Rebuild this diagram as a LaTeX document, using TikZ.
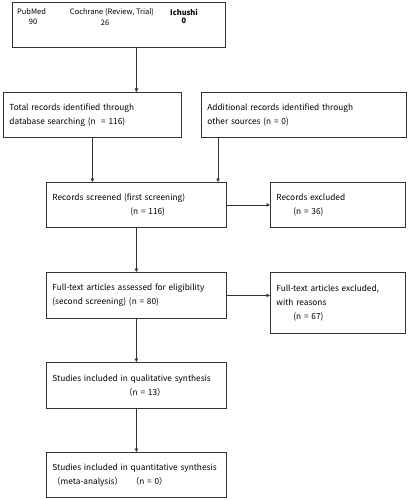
\documentclass[tikz,border=0pt]{standalone}
\usepackage{fontspec}
\setmainfont{Noto Sans CJK JP}
\usetikzlibrary{arrows.meta,calc,positioning}
\definecolor{FlowLine}{HTML}{333333}
\tikzset{
  box/.style={draw=FlowLine,line width=0.8pt,rectangle,anchor=north west,
    inner xsep=6pt,inner ysep=0pt,align=left,
    font=\fontsize{8.3}{14}\selectfont},
  src/.style={inner sep=0pt,font=\fontsize{7.5}{9}\selectfont},
  arr/.style={draw=FlowLine,line width=0.8pt,-{Triangle[length=3.5pt,width=3.5pt]}}
}
\begin{document}
\begin{tikzpicture}[x=1pt,y=-1pt]
   \useasboundingbox (0,0) rectangle (407,500);

   % search sources
   \node[box,minimum width=213pt,minimum height=45pt] (top) at (12,2) {};
   \node[src] (pubmed) at (31.5,12) {PubMed};
   \node[src] (cochrane) at (112,12) {Cochrane (Review, Trial)};
   \node[src,font=\fontsize{7.5}{9}\selectfont\bfseries] (ichushi) at (184,12) {Ichushi};
   \node[src,below=4pt of pubmed,xshift=1.5pt] (pubmedn) {90};
   \node[src,below=4pt of cochrane,xshift=-7pt] (cochranen) {26};
   \node[src,below=2pt of ichushi,font=\fontsize{7.5}{9}\selectfont\bfseries] (ichushin) {0};

   % identification
   \node[box,text width=166pt,minimum height=45pt] (total) at (3,92)
    {Total records identified through\\database searching (n \ = 116)};
   \node[box,text width=193pt,minimum height=45pt] (additional) at (201,92)
    {Additional records identified through\\other sources (n = 0)};
   \coordinate (addout) at ($(additional.south west)+(17,0)$);

   % screening
   \node[box,text width=168pt,minimum height=45pt] (screened) at (46,182)
    {Records screened (first screening)\\\hspace*{78pt}(n = 116)};
   \node[box,text width=123pt,minimum height=45pt] (excluded) at (270,182)
    {Records excluded\\\hspace*{17pt}(n = 36)};

   % eligibility
   \node[box,text width=168pt,minimum height=46pt] (fulltext) at (46,272)
    {Full-text articles assessed for eligibility\\(second screening) (n = 80)};
   \node[box,text width=123pt,minimum height=61pt] (fullexcl) at (270,272)
    {Full-text articles excluded,\\with reasons\\\hspace*{17pt}(n = 67)};

   % included
   \node[box,text width=168pt,minimum height=46pt] (qual) at (46,362)
    {Studies included in qualitative synthesis\\\hspace*{72pt}（n = 13）};
   \node[box,text width=168pt,minimum height=45pt] (quant) at (46,452)
    {Studies included in quantitative synthesis\\（meta-analysis）　（n = 0）};

   \draw[arr] (top.south -| screened.north) -- (total.north -| screened.north);
   \draw[arr] (total.south) -- (total.south |- screened.north);
   \draw[arr] (addout) -- (addout |- screened.north);
   \draw[arr] (screened.east) -- (excluded.west);
   \draw[arr] (screened.south) -- (fulltext.north);
   \draw[arr] (fulltext.east) -- (fulltext.east -| fullexcl.west);
   \draw[arr] (fulltext.south) -- (qual.north);
   \draw[arr] (qual.south) -- (quant.north);
  \end{tikzpicture}
\end{document}
